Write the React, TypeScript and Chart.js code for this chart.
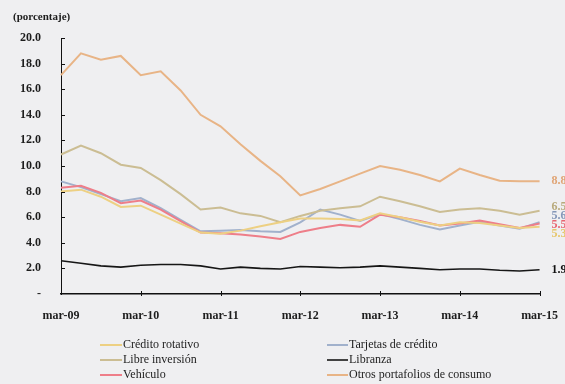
import { useEffect, useRef } from "react";
import { Chart, registerables } from "chart.js";

Chart.register(...registerables);

// Quarterly periods, mar-09 to mar-15
const periods = [
  "mar-09", "jun-09", "sep-09", "dic-09",
  "mar-10", "jun-10", "sep-10", "dic-10",
  "mar-11", "jun-11", "sep-11", "dic-11",
  "mar-12", "jun-12", "sep-12", "dic-12",
  "mar-13", "jun-13", "sep-13", "dic-13",
  "mar-14", "jun-14", "sep-14", "dic-14",
  "mar-15",
];

const creditoRotativo = [
  8.0, 8.15, 7.6, 6.8, 6.9, 6.2, 5.5, 4.8, 4.7, 4.95, 5.3, 5.6,
  5.9, 5.9, 5.85, 5.75, 6.3, 6.0, 5.65, 5.35, 5.6, 5.55, 5.35, 5.15, 5.25,
];
const libreInversion = [
  10.9, 11.6, 11.0, 10.1, 9.85, 8.9, 7.8, 6.6, 6.75, 6.3, 6.1, 5.6,
  6.1, 6.5, 6.7, 6.85, 7.6, 7.25, 6.85, 6.4, 6.6, 6.7, 6.5, 6.2, 6.5,
];
const vehiculo = [
  8.3, 8.45, 7.9, 7.1, 7.3, 6.6, 5.7, 4.8, 4.75, 4.65, 4.5, 4.3,
  4.85, 5.15, 5.4, 5.25, 6.2, 6.0, 5.7, 5.35, 5.5, 5.75, 5.45, 5.15, 5.5,
];
const tarjetasCredito = [
  8.8, 8.35, 7.8, 7.25, 7.5, 6.7, 5.8, 4.9, 4.95, 5.0, 4.9, 4.85,
  5.6, 6.6, 6.2, 5.7, 6.25, 5.85, 5.4, 5.05, 5.35, 5.65, 5.35, 5.1, 5.6,
];
const libranza = [
  2.6, 2.4, 2.2, 2.1, 2.25, 2.3, 2.3, 2.2, 1.95, 2.1, 2.0, 1.95,
  2.15, 2.1, 2.05, 2.1, 2.2, 2.1, 2.0, 1.9, 1.95, 1.95, 1.85, 1.8, 1.9,
];
const otrosPortafolios = [
  17.1, 18.8, 18.3, 18.6, 17.1, 17.4, 15.9, 14.0, 13.1, 11.7, 10.4, 9.2,
  7.7, 8.2, 8.8, 9.4, 10.0, 9.7, 9.3, 8.8, 9.8, 9.3, 8.85, 8.8, 8.8,
];

const seriesNames = [
  "Crédito rotativo",
  "Libre inversión",
  "Vehículo",
  "Tarjetas de crédito",
  "Libranza",
  "Otros portafolios de consumo",
];
const seriesValues = [
  creditoRotativo,
  libreInversion,
  vehiculo,
  tarjetasCredito,
  libranza,
  otrosPortafolios,
];
const seriesColors = ["#edd083", "#cbbd93", "#ee7e89", "#a1b1cc", "#161616", "#e8b486"];
const labelColors = ["#e6c66a", "#b8aa7c", "#e86470", "#8497b8", "#111111", "#e0a474"];

const yTicks = [0, 2, 4, 6, 8, 10, 12, 14, 16, 18, 20];
const unitLabel = "(porcentaje)";

const SERIF = "'Liberation Serif', 'Times New Roman', serif";
const INK = "#1d1d1d";

const decorations = {
  id: "decorations",
  afterDraw(chart: any) {
    const ctx = chart.ctx as CanvasRenderingContext2D;
    const area = chart.chartArea;
    const yScale = chart.scales.y;
    ctx.save();

    // unit caption
    ctx.fillStyle = INK;
    ctx.font = `bold 11px ${SERIF}`;
    ctx.textAlign = "left";
    ctx.textBaseline = "middle";
    ctx.fillText(unitLabel, 13, 17);

    // inward tick marks on the value axis
    ctx.strokeStyle = "#111";
    ctx.lineWidth = 1;
    yTicks.forEach((v) => {
      if (v === 0) return;
      const y = Math.round(yScale.getPixelForValue(v)) + 0.5;
      ctx.beginPath();
      ctx.moveTo(area.left, y);
      ctx.lineTo(area.left + 4, y);
      ctx.stroke();
    });

    // year tick marks on the category axis
    const xScale = chart.scales.x;
    periods.forEach((p, i) => {
      if (i % 4 !== 0 || i === 0) return;
      const x = Math.round(xScale.getPixelForValue(i)) + 0.5;
      ctx.beginPath();
      ctx.moveTo(x, area.bottom - 3);
      ctx.lineTo(x, area.bottom + 2);
      ctx.stroke();
    });

    // end-of-series value labels, spread apart where they collide
    const ends = chart.data.datasets.map((ds: any, i: number) => {
      const meta = chart.getDatasetMeta(i);
      const pt = meta.data[meta.data.length - 1];
      const v = ds.data[ds.data.length - 1] as number;
      return { y: pt.y, text: v.toFixed(1), color: labelColors[i] };
    });
    ends.sort((a: any, b: any) => a.y - b.y);
    const gap = 9;
    for (let pass = 0; pass < 20; pass++) {
      for (let k = 1; k < ends.length; k++) {
        const d = ends[k].y - ends[k - 1].y;
        if (d < gap) {
          const shift = (gap - d) / 2;
          ends[k - 1].y -= shift;
          ends[k].y += shift;
        }
      }
    }
    ctx.font = `bold 12px ${SERIF}`;
    ctx.textBaseline = "middle";
    ends.forEach((e: any) => {
      ctx.fillStyle = e.color;
      ctx.fillText(e.text, area.right + 12, e.y);
    });

    // legend: two columns of three rows
    const rows = [345, 360, 375];
    const cols = [
      { x0: 100, x1: 122 },
      { x0: 327, x1: 348 },
    ];
    ctx.font = `12px ${SERIF}`;
    ctx.textBaseline = "middle";
    seriesNames.forEach((name, i) => {
      const col = cols[Math.floor(i / 3)];
      const y = rows[i % 3];
      ctx.strokeStyle = seriesColors[i];
      ctx.lineWidth = i === 4 ? 1.6 : 2;
      ctx.beginPath();
      ctx.moveTo(col.x0, y);
      ctx.lineTo(col.x1, y);
      ctx.stroke();
      ctx.fillStyle = INK;
      ctx.fillText(name, col.x1 + 1, y);
    });

    ctx.restore();
  },
};

export default function App() {
  const canvasRef = useRef<HTMLCanvasElement | null>(null);

  useEffect(() => {
    const canvas = canvasRef.current;
    if (!canvas) return;
    const chart = new Chart(canvas, {
      type: "line",
      data: {
        labels: periods,
        datasets: seriesNames.map((name, i) => ({
          label: name,
          data: seriesValues[i],
          borderColor: seriesColors[i],
          backgroundColor: seriesColors[i],
          borderWidth: i === 4 ? 1.6 : 2,
          pointRadius: 0,
          tension: 0,
          fill: false,
        })),
      },
      options: {
        animation: false,
        responsive: false,
        devicePixelRatio: 1,
        layout: { padding: { left: 0, right: 23, top: 38, bottom: 60 } },
        plugins: {
          legend: { display: false },
          tooltip: { enabled: false },
        },
        scales: {
          x: {
            type: "category",
            offset: false,
            grid: { display: false },
            border: { display: true, color: "#111", width: 1.5 },
            ticks: {
              autoSkip: false,
              maxRotation: 0,
              minRotation: 0,
              padding: 7,
              color: INK,
              font: { family: SERIF, size: 12, weight: "bold" },
              callback: (_v: any, idx: number) => (idx % 4 === 0 ? periods[idx] : ""),
            },
            afterFit: (scale: any) => {
              scale.height = 30;
            },
          },
          y: {
            min: 0,
            max: 20,
            grid: { display: false },
            border: { display: true, color: "#111", width: 1 },
            afterBuildTicks: (scale: any) => {
              scale.ticks = yTicks.map((v) => ({ value: v }));
            },
            ticks: {
              padding: 12,
              color: INK,
              font: { family: SERIF, size: 12, weight: "bold" },
              callback: (v: any) => (Number(v) === 0 ? "-" : Number(v).toFixed(1)),
            },
            afterFit: (scale: any) => {
              scale.width = 61;
            },
          },
        },
      },
      plugins: [decorations],
    });
    return () => chart.destroy();
  }, []);

  return (
    <div
      style={{
        position: "absolute",
        left: 0,
        top: 0,
        width: 565,
        height: 384,
        overflow: "hidden",
        background: "#efeff1",
      }}
    >
      <canvas ref={canvasRef} width={565} height={384} style={{ display: "block" }} />
    </div>
  );
}
